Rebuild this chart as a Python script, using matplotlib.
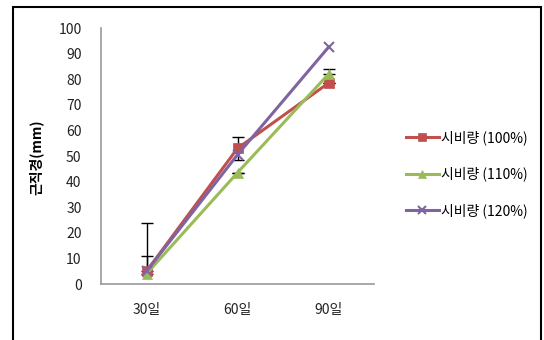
import numpy as np
import matplotlib
matplotlib.use("Agg")
import matplotlib.pyplot as plt
from matplotlib.patches import Rectangle

plt.rcParams['font.family'] = ['Noto Sans CJK KR', 'DejaVu Sans']

days = ['30일', '60일', '90일']
labels = ['시비량 (100%)', '시비량 (110%)', '시비량 (120%)']
val_100 = [5, 53, 78.5]
val_110 = [4, 43.5, 82]
val_120 = [5, 50.5, 92.5]
# error bar lengths: [lower, upper]
err_100 = [[0, 4.5, 0], [19, 4.5, 0]]
err_110 = [[0, 0, 0], [7, 0, 2]]
colors = ['#C0504D', '#9BBB59', '#8064A2']
markers = ['s', '^', 'x']

fig = plt.figure(figsize=(5.44, 3.4), dpi=100)
ax = fig.add_axes([0.1857, 0.1647, 0.6875 - 0.1857, 0.9176 - 0.1647])

x = np.arange(len(days)) + 0.5
series = [val_100, val_110, val_120]
for vals, lab, c, m in zip(series, labels, colors, markers):
    ax.plot(x, vals, color=c, marker=m, markersize=7, linewidth=2.2,
            markeredgewidth=1.5 if m == 'x' else 0.5, label=lab)

ax.errorbar(x, val_100, yerr=err_100, fmt='none', ecolor='black',
            elinewidth=1, capsize=4, capthick=1, zorder=1)
ax.errorbar(x, val_110, yerr=err_110, fmt='none', ecolor='black',
            elinewidth=1, capsize=4, capthick=1, zorder=1)

ax.set_xlim(0, 3)
ax.set_ylim(0, 100)
ax.set_xticks(x)
ax.set_xticklabels(days)
ax.set_yticks(range(0, 101, 10))
ax.tick_params(axis='both', length=0, labelsize=10, colors='#222222')
ax.tick_params(axis='y', pad=14)
ax.tick_params(axis='x', pad=14)
for s in ['top', 'right']:
    ax.spines[s].set_visible(False)
for s in ['left', 'bottom']:
    ax.spines[s].set_color('#9a9a9a')
    ax.spines[s].set_linewidth(1.2)

ax.set_ylabel('근직경(mm)', fontsize=10, fontweight='bold')
ax.yaxis.set_label_coords(-0.209, 0.496)

fig.legend(loc='center left', bbox_to_anchor=(393 / 544, 1 - 174 / 340),
           frameon=False, fontsize=10, labelspacing=1.55, handlelength=2.4,
           handletextpad=0.15, markerscale=0.9)

fig.patches.append(Rectangle((13 / 544, -0.1), (541 - 13) / 544, 1 - 7 / 340 + 0.1,
                             transform=fig.transFigure, fill=False,
                             edgecolor='black', linewidth=1.5))

fig.savefig('out.png', dpi=100)
